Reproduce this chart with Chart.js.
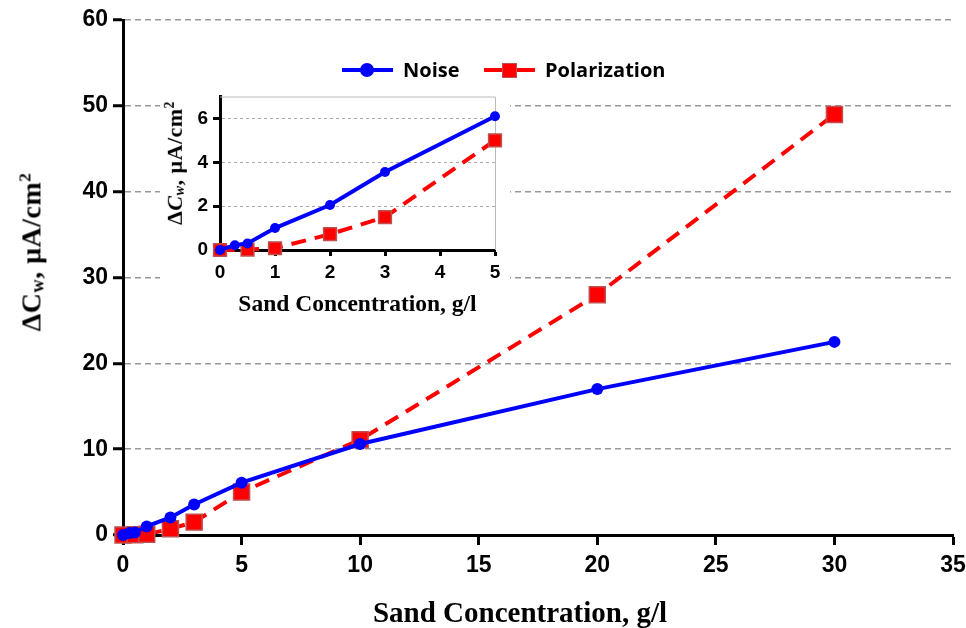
<!DOCTYPE html>
<html>
<head>
<meta charset="utf-8">
<script src="https://cdn.jsdelivr.net/npm/chart.js@4.4.1/dist/chart.umd.min.js"></script>
<style>
  html, body { margin: 0; padding: 0; background: #fff; }
  #wrap { position: relative; width: 966px; height: 628px; overflow: hidden; }
  #mainCanvas { position: absolute; left: 0; top: 0; }
  .ytitle, .xtitle {
    position: absolute; white-space: nowrap; color: #000;
    font-family: "Liberation Serif", "Times New Roman", serif; font-weight: bold;
  }
  .ytitle { transform: translate(-50%, -50%) rotate(-90deg); letter-spacing: 0.5px; }
  .xtitle { transform: translate(-50%, -50%); }
  .ytitle sub { font-size: 0.65em; vertical-align: -0.15em; }
  .ytitle sup { font-size: 0.62em; vertical-align: 0.6em; }
  .ytitle i { font-style: italic; }
  #insetBox { position: absolute; left: 160px; top: 86px; width: 350px; height: 235px; background: #fff; }
  #insetCanvas { position: absolute; left: 0; top: 0; }
  #legend { position: absolute; left: 342px; top: 57px; height: 26px; font-family: "Open Sans", Lato, sans-serif; font-weight: bold; font-size: 20px; color: #000; }
  .item { position: absolute; top: 0; height: 26px; line-height: 26px; white-space: nowrap; }
  .sample { position: absolute; top: 11px; width: 51px; height: 0; border-top: 4px solid; }
  .marker { position: absolute; box-sizing: border-box; }
  .label { position: absolute; left: 61px; top: 0; }
</style>
</head>
<body>
<div id="wrap">
  <canvas id="mainCanvas" width="966" height="628"></canvas>
  <div class="ytitle" style="left:32px;top:252px;font-size:28px">ΔC<sub>w</sub>, μA/cm<sup>2</sup></div>
  <div class="xtitle" id="mainXTitle" style="left:520px;top:612px;font-size:29px"></div>
  <div id="insetBox">
    <canvas id="insetCanvas" width="350" height="235"></canvas>
    <div class="ytitle" style="left:15px;top:77px;font-size:22px">Δ<i>C<sub>w</sub></i>, μA/cm<sup>2</sup></div>
  </div>
  <div id="legend"></div>
</div>
<script>
// data
const noiseX = [0, 0.27, 0.5, 1, 2, 3, 5, 10, 20, 30];
const noiseY = [0, 0.22, 0.3, 1.0, 2.05, 3.56, 6.1, 10.6, 17.0, 22.5];
const polX = [0, 0.5, 1, 2, 3, 5, 10, 20, 30];
const polY = [0, 0.02, 0.08, 0.72, 1.5, 5.0, 11.1, 28.0, 49.0];

const seriesNames = ["Noise", "Polarization"];
const seriesColors = ["#0000ff", "#ff0000"];

const mainXTicks = [0, 35, 5];   // min, max, step
const mainYTicks = [0, 60, 10];
const insetXTicks = [0, 5, 1];
const insetYTicks = [0, 7, 2];
const xTitle = "Sand Concentration, g/l";

const tickFont = "'Liberation Sans', Arial, sans-serif";
const titleFont = "'Liberation Serif', 'Times New Roman', serif";

document.getElementById("mainXTitle").textContent = xTitle;

function pts(xs, ys, maxX) {
  const out = [];
  xs.forEach((x, i) => { if (x <= maxX) out.push({ x: x, y: ys[i] }); });
  return out;
}

function makeDatasets(maxX, dotR, sqR) {
  return [
    {
      label: seriesNames[0],
      data: pts(noiseX, noiseY, maxX),
      borderColor: seriesColors[0],
      backgroundColor: seriesColors[0],
      borderWidth: 4,
      pointStyle: "circle",
      pointRadius: dotR,
      pointBorderWidth: 0,
      tension: 0,
      clip: false,
    },
    {
      label: seriesNames[1],
      data: pts(polX, polY, maxX),
      borderColor: seriesColors[1],
      backgroundColor: seriesColors[1],
      borderWidth: 4,
      borderDash: [15, 9],
      pointStyle: "rect",
      pointRadius: sqR,
      pointBorderColor: "#c0504d",
      pointBorderWidth: 1.5,
      tension: 0,
      clip: false,
    },
  ];
}

// light frame on top/right of the inset plot area
const frame = {
  id: "frame",
  beforeDatasetsDraw(chart, args, opts) {
    if (!opts.on) return;
    const a = chart.chartArea, ctx = chart.ctx;
    ctx.save();
    ctx.strokeStyle = "#bbbbbb";
    ctx.lineWidth = 1;
    ctx.beginPath();
    ctx.moveTo(a.left, a.top + 0.5);
    ctx.lineTo(a.right + 0.5, a.top + 0.5);
    ctx.lineTo(a.right + 0.5, a.bottom);
    ctx.stroke();
    ctx.restore();
  },
};

new Chart(document.getElementById("mainCanvas"), {
  type: "line",
  data: { datasets: makeDatasets(100, 6, 11.3) },
  plugins: [frame],
  options: {
    responsive: false,
    animation: false,
    layout: { padding: { left: 0, top: 20, right: 13, bottom: 0 } },
    plugins: { legend: { display: false }, tooltip: { enabled: false }, frame: { on: false } },
    scales: {
      x: {
        type: "linear",
        min: mainXTicks[0], max: mainXTicks[1],
        ticks: { stepSize: mainXTicks[2], color: "#000", padding: 7, font: { family: tickFont, size: 23, weight: "bold" } },
        grid: { drawOnChartArea: false, tickLength: 10, tickColor: "#000", tickWidth: 3 },
        border: { color: "#000", width: 3 },
        afterFit(s) { s.height = 93; s.paddingLeft = 0; s.paddingRight = 0; },
      },
      y: {
        min: mainYTicks[0], max: mainYTicks[1],
        ticks: { stepSize: mainYTicks[2], color: "#000", padding: 5, font: { family: tickFont, size: 23, weight: "bold" } },
        grid: { color: "#999999", lineWidth: 1.5, tickLength: 10, tickColor: "#000", tickWidth: 3 },
        border: { color: "#000", width: 3, dash: [6, 4] },
        afterFit(s) { s.width = 123; s.paddingTop = 0; s.paddingBottom = 0; },
      },
    },
  },
});

new Chart(document.getElementById("insetCanvas"), {
  type: "line",
  data: { datasets: makeDatasets(insetXTicks[1], 5, 9) },
  plugins: [frame],
  options: {
    responsive: false,
    animation: false,
    layout: { padding: { left: 0, top: 8, right: 15, bottom: 0 } },
    plugins: { legend: { display: false }, tooltip: { enabled: false }, frame: { on: true } },
    scales: {
      x: {
        type: "linear",
        min: insetXTicks[0], max: insetXTicks[1],
        ticks: { stepSize: insetXTicks[2], color: "#000", padding: 5, font: { family: tickFont, size: 19, weight: "bold" } },
        grid: { drawOnChartArea: false, tickLength: 6, tickColor: "#000", tickWidth: 3 },
        border: { color: "#000", width: 3 },
        title: { display: true, text: xTitle, color: "#000", padding: { top: 0, bottom: 2 }, font: { family: titleFont, size: 23.5, weight: "bold" } },
        afterFit(s) { s.height = 71; s.paddingLeft = 0; s.paddingRight = 0; },
      },
      y: {
        min: insetYTicks[0], max: insetYTicks[1],
        ticks: { stepSize: insetYTicks[2], color: "#000", padding: 5, font: { family: tickFont, size: 19, weight: "bold" } },
        afterBuildTicks(s) { s.ticks = s.ticks.filter((t) => t.value % insetYTicks[2] === 0); },
        grid: { color: "#aaaaaa", lineWidth: 1, tickLength: 7, tickColor: "#000", tickWidth: 3 },
        border: { color: "#000", width: 3, dash: [3, 3] },
        afterFit(s) { s.width = 60; s.paddingTop = 0; s.paddingBottom = 0; },
      },
    },
  },
});

// legend: line sample + marker + name
const legend = document.getElementById("legend");
const legendLeft = [0, 142];
seriesNames.forEach((name, i) => {
  const item = document.createElement("div");
  item.className = "item";
  item.style.left = legendLeft[i] + "px";
  const line = document.createElement("div");
  line.className = "sample";
  line.style.borderColor = seriesColors[i];
  item.appendChild(line);
  const m = document.createElement("div");
  m.className = "marker";
  if (i === 0) {
    m.style.cssText += "left:18px;top:6px;width:14px;height:14px;border-radius:50%;background:" + seriesColors[i];
  } else {
    m.style.cssText += "left:18px;top:6px;width:15px;height:15px;border:1.5px solid #c0504d;background:" + seriesColors[i];
  }
  item.appendChild(m);
  const t = document.createElement("span");
  t.className = "label";
  t.textContent = name;
  item.appendChild(t);
  legend.appendChild(item);
});
</script>
</body>
</html>
